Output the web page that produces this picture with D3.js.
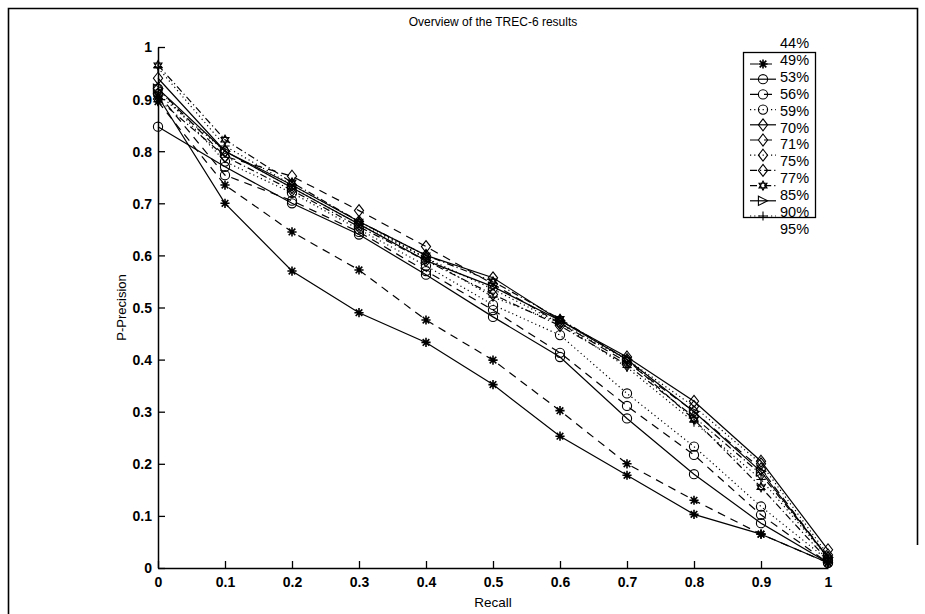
<!DOCTYPE html>
<html lang="en">
<head>
<meta charset="UTF-8"/>
<title>Overview of the TREC-6 results</title>
<script src="https://cdn.jsdelivr.net/npm/d3@7"></script>
<style>
    html, body { margin: 0; background: white; }
    svg { display: block; font-family: "Liberation Sans", Arial, sans-serif; }
</style>
</head>
<body>
<div id="container"></div>
<script>
    // recall levels on the x axis
    const recall = [0, 0.1, 0.2, 0.3, 0.4, 0.5, 0.6, 0.7, 0.8, 0.9, 1]
    const seriesNames = ['44%', '49%', '53%', '56%', '59%', '70%', '71%', '75%', '77%', '85%', '90%', '95%']

    // precision values, one array per run
    const p44 = [0.905, 0.700, 0.570, 0.490, 0.433, 0.352, 0.253, 0.178, 0.103, 0.065, 0.010]
    const p49 = [0.895, 0.735, 0.645, 0.572, 0.476, 0.399, 0.302, 0.200, 0.130, 0.065, 0.010]
    const p53 = [0.847, 0.770, 0.700, 0.640, 0.563, 0.482, 0.405, 0.287, 0.180, 0.086, 0.010]
    const p56 = [0.910, 0.754, 0.705, 0.645, 0.570, 0.495, 0.413, 0.311, 0.217, 0.102, 0.010]
    const p59 = [0.920, 0.780, 0.720, 0.650, 0.580, 0.505, 0.447, 0.335, 0.233, 0.118, 0.015]
    const p70 = [0.940, 0.800, 0.735, 0.665, 0.600, 0.557, 0.475, 0.405, 0.320, 0.205, 0.035]
    const p71 = [0.920, 0.790, 0.752, 0.686, 0.617, 0.545, 0.470, 0.395, 0.300, 0.190, 0.020]
    const p75 = [0.910, 0.800, 0.730, 0.660, 0.595, 0.535, 0.470, 0.400, 0.310, 0.200, 0.025]
    const p77 = [0.900, 0.790, 0.725, 0.655, 0.590, 0.525, 0.465, 0.390, 0.290, 0.180, 0.020]
    const p85 = [0.965, 0.822, 0.740, 0.665, 0.600, 0.550, 0.478, 0.400, 0.285, 0.155, 0.015]
    const p90 = [0.920, 0.800, 0.730, 0.660, 0.590, 0.540, 0.475, 0.400, 0.300, 0.185, 0.020]
    const p95 = [0.960, 0.810, 0.735, 0.665, 0.595, 0.520, 0.470, 0.385, 0.280, 0.170, 0.020]

    const xTicks = [0, 0.1, 0.2, 0.3, 0.4, 0.5, 0.6, 0.7, 0.8, 0.9, 1]
    const yTicks = [0, 0.1, 0.2, 0.3, 0.4, 0.5, 0.6, 0.7, 0.8, 0.9, 1]

    const values = [p44, p49, p53, p56, p59, p70, p71, p75, p77, p85, p90, p95]
    const markers = ['star', 'star', 'circle', 'circle', 'circle', 'diamond', 'diamond', 'diamond', 'diamond', 'hexagram', 'triangle', 'plus']
    const dashes = ['none', '8,6', 'none', '8,6', '1.2,3', 'none', '8,6', '1.2,3', '7,3,1.2,3', '7,3,1.2,3', 'none', '1.2,3']

    const width = 925, height = 614
    const margin = {left: 158, top: 47, right: 97, bottom: 46}
    const w = width - margin.left - margin.right
    const h = height - margin.top - margin.bottom
    const tickFont = '"Liberation Sans Narrow", "Liberation Sans", Arial, sans-serif'

    const svg = d3.select('#container').append('svg')
        .attr('width', width)
        .attr('height', height)

    // scanned page frame
    svg.append('path')
        .attr('d', 'M8.5,614 V8.5 H917.5 V545')
        .attr('fill', 'none')
        .attr('stroke', 'black')
        .attr('stroke-width', 1.6)

    const x = d3.scaleLinear().domain([0, 1]).range([0, w])
    const y = d3.scaleLinear().domain([0, 1]).range([h, 0])

    const g = svg.append('g').attr('transform', `translate(${margin.left},${margin.top})`)

    // axes, MATLAB style with inward ticks
    const xAxis = g.append('g')
        .attr('transform', `translate(0,${h})`)
        .call(d3.axisBottom(x).tickValues(xTicks).tickSizeInner(-7).tickSizeOuter(0).tickPadding(9)
            .tickFormat(d => d3.format('~g')(d)))
    const yAxis = g.append('g')
        .call(d3.axisLeft(y).tickValues(yTicks).tickSizeInner(-7).tickSizeOuter(0).tickPadding(6)
            .tickFormat(d => d3.format('~g')(d)))

    for (const ax of [xAxis, yAxis]) {
        ax.select('.domain').attr('stroke', 'black').attr('stroke-width', 1.5)
        ax.selectAll('.tick line').attr('stroke', 'black').attr('stroke-width', 1.3)
        ax.selectAll('.tick text')
            .attr('fill', 'black')
            .style('font-size', '14px')
            .style('font-weight', 'bold')
            .style('font-family', tickFont)
    }
    yAxis.selectAll('.tick text').attr('dy', '0.35em')

    // title and axis labels
    svg.append('text')
        .attr('x', margin.left + w / 2)
        .attr('y', 26)
        .attr('text-anchor', 'middle')
        .style('font-size', '12px')
        .text('Overview of the TREC-6 results')

    svg.append('text')
        .attr('x', margin.left + w / 2)
        .attr('y', 607)
        .attr('text-anchor', 'middle')
        .style('font-size', '13.5px')
        .style('font-family', tickFont)
        .text('Recall')

    svg.append('text')
        .attr('transform', `translate(126,${margin.top + h / 2}) rotate(-90)`)
        .attr('text-anchor', 'middle')
        .style('font-size', '13px')
        .style('font-family', tickFont)
        .text('P-Precision')

    function drawMarker(sel, type, cx, cy) {
        const s = 4.6
        const m = sel.append('g').attr('transform', `translate(${cx},${cy})`)
            .attr('fill', 'none').attr('stroke', 'black').attr('stroke-width', 1.1)
        if (type === 'star') {
            m.append('path').attr('d', `M${-s},0H${s}M0,${-s}V${s}M${-s * 0.72},${-s * 0.72}L${s * 0.72},${s * 0.72}M${-s * 0.72},${s * 0.72}L${s * 0.72},${-s * 0.72}`)
                .attr('stroke-width', 1.6)
        } else if (type === 'circle') {
            m.append('circle').attr('r', s)
        } else if (type === 'diamond') {
            m.append('path').attr('d', `M0,${-s * 1.3}L${s},0L0,${s * 1.3}L${-s},0Z`)
        } else if (type === 'hexagram') {
            const t1 = d3.range(3).map(i => {
                const a = -Math.PI / 2 + i * 2 * Math.PI / 3
                return [s * Math.cos(a), s * Math.sin(a)]
            })
            const t2 = d3.range(3).map(i => {
                const a = Math.PI / 2 + i * 2 * Math.PI / 3
                return [s * Math.cos(a), s * Math.sin(a)]
            })
            m.append('path').attr('d', 'M' + t1.join('L') + 'Z' + 'M' + t2.join('L') + 'Z')
        } else if (type === 'triangle') {
            m.append('path').attr('d', `M${s},0L${-s},${-s}L${-s},${s}Z`)
        } else if (type === 'plus') {
            m.append('path').attr('d', `M${-s},0H${s}M0,${-s}V${s}`)
        }
    }

    const line = d3.line()
        .x((d, i) => x(recall[i]))
        .y(d => y(d))

    const plot = g.append('g')
    values.forEach((vals, k) => {
        plot.append('path')
            .datum(vals)
            .attr('d', line)
            .attr('fill', 'none')
            .attr('stroke', 'black')
            .attr('stroke-width', 1.2)
            .attr('stroke-dasharray', dashes[k])
        vals.forEach((v, i) => drawMarker(plot, markers[k], x(recall[i]), y(v)))
    })

    // legend, labels drift one row from the symbols as in the scan
    const legend = svg.append('g')
    legend.append('rect')
        .attr('x', 743.5).attr('y', 52.5)
        .attr('width', 72).attr('height', 165)
        .attr('fill', 'white').attr('stroke', 'black').attr('stroke-width', 1.3)

    seriesNames.forEach((name, k) => {
        legend.append('text')
            .attr('x', 780)
            .attr('y', 43 + k * 16.9)
            .attr('dy', '0.35em')
            .style('font-size', '14.5px')
            .text(name)
    })

    seriesNames.slice(1).forEach((name, j) => {
        const k = j + 1
        const ly = 64 + j * 15.2
        legend.append('line')
            .attr('x1', 750).attr('x2', 776)
            .attr('y1', ly).attr('y2', ly)
            .attr('stroke', 'black')
            .attr('stroke-width', 1.2)
            .attr('stroke-dasharray', dashes[k])
        drawMarker(legend, markers[k], 763, ly)
    })
</script>
</body>
</html>
